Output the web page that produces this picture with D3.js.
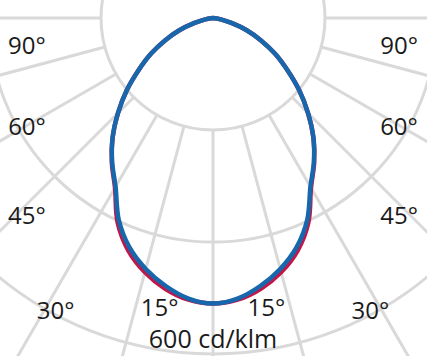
<!DOCTYPE html>
<html>
<head>
<meta charset="utf-8">
<script src="https://cdn.jsdelivr.net/npm/d3@7"></script>
<style>
  html, body { margin: 0; padding: 0; background: #fff; }
  #chart { width: 427px; height: 356px; }
  text { font-family: "Open Sans", sans-serif; fill: #1a1a1a; }
</style>
</head>
<body>
<div id="chart"></div>
<script>
// gamma angles (degrees from nadir) and intensities in cd/klm
var gammaAngles = [0, 5, 10, 15, 20, 25, 30, 35, 40, 45, 50, 55, 60, 65, 70, 75, 80, 85, 90];
var planeC0 =     [510, 503, 486, 464, 436, 398, 348, 314, 279, 240, 201, 162, 128, 94, 64, 34, 14, 4, 0];
var planeC90 =    [510, 505, 491, 470, 442, 403, 350, 315, 279, 240, 201, 162, 128, 94, 64, 34, 14, 4, 0];

var ringValues = [200, 400, 600];
var spokeAngles = d3.range(-180, 181, 15);
var angleLabels = ["90°", "60°", "45°", "30°", "15°"];
var unitLabel = "600 cd/klm";

// label placement (polar, angle in degrees / radius in px)
var labelLayout = [
    { a: 82.0, r: 188 },
    { a: 59.9, r: 215 },
    { a: 43.4, r: 271 },
    { a: 28.4, r: 331 },
    { a: 10.5, r: 293 }
];

var width = 427, height = 356;
var cx = 213, cy = 18;

var svg = d3.select("#chart").append("svg")
    .attr("width", width)
    .attr("height", height);

var g = svg.append("g")
    .attr("transform", "translate(" + cx + "," + cy + ")");

var r = d3.scaleLinear()
    .domain([0, 600])
    .range([0, 336]);

var rad = function(deg){ return deg * Math.PI / 180; };
// gamma 0 points down
var toPoint = function(deg, radius){ return d3.pointRadial(Math.PI - rad(deg), radius); };

// spokes
g.selectAll(".spoke")
    .data(spokeAngles)
    .enter().append("line")
    .attr("class", "spoke")
    .attr("x1", function(d){ return toPoint(d, r(ringValues[0]))[0]; })
    .attr("y1", function(d){ return toPoint(d, r(ringValues[0]))[1]; })
    .attr("x2", function(d){ return toPoint(d, 700)[0]; })
    .attr("y2", function(d){ return toPoint(d, 700)[1]; })
    .attr("stroke", "#d9d9d9")
    .attr("stroke-width", 3);

// rings
g.selectAll(".ring")
    .data(ringValues)
    .enter().append("circle")
    .attr("class", "ring")
    .attr("r", function(d){ return r(d); })
    .attr("fill", "none")
    .attr("stroke", "#d9d9d9")
    .attr("stroke-width", 3);

// build both halves of a plane
function planePoints(values){
    var pts = [];
    for (var i = gammaAngles.length - 1; i > 0; i--) {
        pts.push({ angle: -gammaAngles[i], value: values[i] });
    }
    for (var j = 0; j < gammaAngles.length; j++) {
        pts.push({ angle: gammaAngles[j], value: values[j] });
    }
    return pts;
}

var line = d3.lineRadial()
    .angle(function(d){ return Math.PI - rad(d.angle); })
    .radius(function(d){ return r(d.value); })
    .curve(d3.curveCatmullRom.alpha(0.5));

g.append("path")
    .datum(planePoints(planeC90))
    .attr("d", line)
    .attr("fill", "none")
    .attr("stroke", "#c0174a")
    .attr("stroke-width", 4.5)
    .attr("stroke-linejoin", "round");

g.append("path")
    .datum(planePoints(planeC0))
    .attr("d", line)
    .attr("fill", "none")
    .attr("stroke", "#1767ad")
    .attr("stroke-width", 4.5)
    .attr("stroke-linejoin", "round");

// angle labels, both sides
var labelData = [];
angleLabels.forEach(function(t, i){
    labelData.push({ text: t, a: -labelLayout[i].a, r: labelLayout[i].r });
    labelData.push({ text: t, a: labelLayout[i].a, r: labelLayout[i].r });
});

g.selectAll(".angle-label")
    .data(labelData)
    .enter().append("text")
    .attr("class", "angle-label")
    .attr("x", function(d){ return toPoint(d.a, d.r)[0]; })
    .attr("y", function(d){ return toPoint(d.a, d.r)[1]; })
    .attr("text-anchor", "middle")
    .attr("dominant-baseline", "central")
    .style("font-size", "24px")
    .text(function(d){ return d.text; });

g.append("text")
    .attr("x", 0)
    .attr("y", r(ringValues[2]) - 6)
    .attr("text-anchor", "middle")
    .style("font-size", "25px")
    .text(unitLabel);
</script>
</body>
</html>
